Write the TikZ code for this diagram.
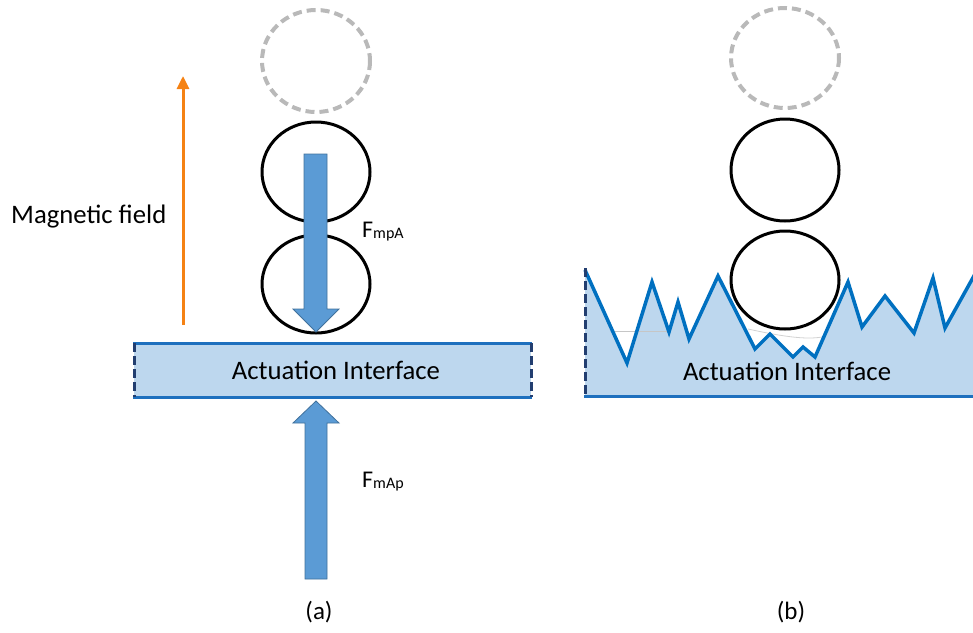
\documentclass[tikz,border=0pt]{standalone}
\usepackage{fontspec}
\setmainfont{Carlito}
\usetikzlibrary{arrows.meta}

\definecolor{arrowfill}{RGB}{91,155,213}
\definecolor{arrowedge}{RGB}{65,113,156}
\definecolor{layerfill}{RGB}{189,215,238}
\definecolor{layerline}{RGB}{30,112,190}
\definecolor{layeredge}{RGB}{34,62,112}
\definecolor{roughline}{RGB}{0,112,192}
\definecolor{fieldorange}{RGB}{245,130,20}
\definecolor{ghostgray}{RGB}{185,185,185}

\tikzset{
  ball/.style={draw=black, line width=3pt},
  ghostball/.style={draw=ghostgray, line width=4pt, dash pattern=on 9pt off 5pt},
  forcearrow/.style={fill=arrowfill, draw=arrowedge, line width=0.8pt, line join=miter},
  layerborder/.style={draw=layerline, line width=3pt},
  layerside/.style={draw=layeredge, line width=3pt, dash pattern=on 9pt off 4pt},
  bigtext/.style={font=\fontsize{26.7}{31}\selectfont, inner sep=0pt},
  forcetext/.style={font=\fontsize{24}{28}\selectfont, inner sep=0pt},
}

\newcommand{\subtext}[1]{{\fontsize{16}{19}\selectfont\raisebox{-1pt}{#1}}}

\begin{document}
\begin{tikzpicture}[x=1pt, y=-1pt]
  \useasboundingbox (0,0) rectangle (973,632);

  % ---------------- (a) flat actuation interface ----------------
  % magnetic field arrow
  \coordinate (fieldlow) at (183,325);
  \coordinate (fieldhigh) at (183,76);
  \draw[fieldorange, line width=3pt,
        -{Triangle[width=12pt,length=13pt]}] (fieldlow) -- (fieldhigh);
  \node[bigtext, anchor=west] (fieldlbl) at (11,217) {Magnetic field};

  % particles
  \draw[ghostball] (316,61) ellipse [x radius=54, y radius=51];
  \draw[ball] (316,172) ellipse [x radius=54, y radius=50];
  \draw[ball] (316,284) ellipse [x radius=54, y radius=49];

  % downward force on the particles
  \draw[forcearrow] (304,154) -- (327,154) -- (327,309) -- (339,309)
        -- (316,332) -- (293,309) -- (304,309) -- cycle;
  \node[forcetext, anchor=base west] (fmpa) at (362,237) {F\subtext{mpA}};

  % interface layer
  \fill[layerfill] (134,343) rectangle (531,397);
  \draw[layerborder] (133,343) -- (532,343);
  \draw[layerborder] (133,397) -- (532,397);
  \draw[layerside] (134,343) -- (134,397);
  \draw[layerside] (531,343) -- (531,397);
  \node[bigtext, anchor=base] (ifa) at (336,379) {Actuation Interface};

  % upward force on the interface
  \draw[forcearrow] (305,579) -- (327,579) -- (327,423) -- (339,423)
        -- (316,401) -- (293,423) -- (305,423) -- cycle;
  \node[forcetext, anchor=base west] (fmap) at (362,487) {F\subtext{mAp}};

  \node[font=\fontsize{25}{29}\selectfont, inner sep=0pt] (capa) at (319,612) {(a)};

  % ---------------- (b) rough actuation interface ----------------
  \fill[layerfill] (585,396) -- (585,270) -- (627,363) -- (652,282)
    -- (669,332) -- (678,302) -- (689,339) -- (718,276) -- (755,349)
    -- (770,334) -- (793,357) -- (803,347) -- (815,357) -- (848,282)
    -- (862,327) -- (885,296) -- (914,333) -- (933,278) -- (945,328)
    -- (973,277) -- (973,396) -- cycle;
  % faint guide lines inside the layer
  \draw[gray!45, line width=0.8pt] (615,331) -- (668,331);
  \draw[gray!35, line width=0.8pt] (748,329) .. controls (780,336) and (805,340) .. (822,337);
  \draw[roughline, line width=3.5pt, line join=miter]
    (585,270) -- (627,363) -- (652,282)
    -- (669,332) -- (678,302) -- (689,339) -- (718,276) -- (755,349)
    -- (770,334) -- (793,357) -- (803,347) -- (815,357) -- (848,282)
    -- (862,327) -- (885,296) -- (914,333) -- (933,278) -- (945,328)
    -- (975,274);
  \draw[layerborder] (584,396) -- (973,396);
  \draw[layerside] (585,268) -- (585,396);
  \node[bigtext, anchor=base] (ifb) at (787,380) {Actuation Interface};

  % particles
  \draw[ghostball] (785,58) ellipse [x radius=54, y radius=50];
  \draw[ball] (785,170) ellipse [x radius=54, y radius=51];
  \draw[ball] (785,280) ellipse [x radius=54, y radius=49];

  \node[font=\fontsize{25}{29}\selectfont, inner sep=0pt] (capb) at (791,612) {(b)};
\end{tikzpicture}
\end{document}
